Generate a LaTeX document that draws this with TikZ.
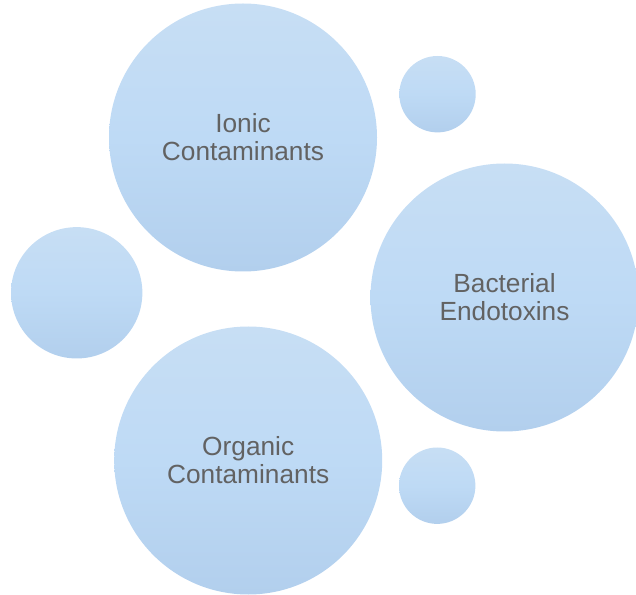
\documentclass[tikz,border=0pt]{standalone}
\usepackage{fontspec}
\setmainfont{Liberation Sans}
\usepackage{tikz}
\usetikzlibrary{shapes,positioning}
\definecolor{bubbleTop}   {RGB}{199,222,244}
\definecolor{bubbleMid}   {RGB}{190,218,245}
\definecolor{bubbleBot}   {RGB}{178,207,237}
\definecolor{labelGray}   {RGB}{98, 98, 98}

\tikzset{
  bubble/.style={circle,inner sep=0pt,draw=none,
                 top color=bubbleTop,bottom color=bubbleBot,middle color=bubbleMid,
                 text=labelGray,align=center,
                 font=\fontsize{19.7pt}{21pt}\selectfont},
  bigbubble/.style={bubble,minimum size=201pt},
  dotbubble/.style={bubble,minimum size=#1}
}

\begin{document}
\begin{tikzpicture}[x=0.75pt,y=-0.75pt]
        % Area
        \useasboundingbox (0,0) rectangle (636,595);

        % Bolhas grandes
        \node[bigbubble] (ionic) at (243,137.5) {Ionic\\Contaminants};
        \node[bigbubble] (bacterial) at (504.5,297.5) {Bacterial\\Endotoxins};
        \node[bigbubble] (organic) at (248.2,460.5) {Organic\\Contaminants};

        % Bolhas pequenas
        \foreach \name/\x/\y/\d in {dotTop/437.5/94.2/57.3pt,
                                    dotLeft/76.7/292.8/98.5pt,
                                    dotBottom/437.2/485.7/57.3pt}{
          \node[dotbubble=\d] (\name) at (\x,\y) {};
        }
      \end{tikzpicture}
\end{document}
